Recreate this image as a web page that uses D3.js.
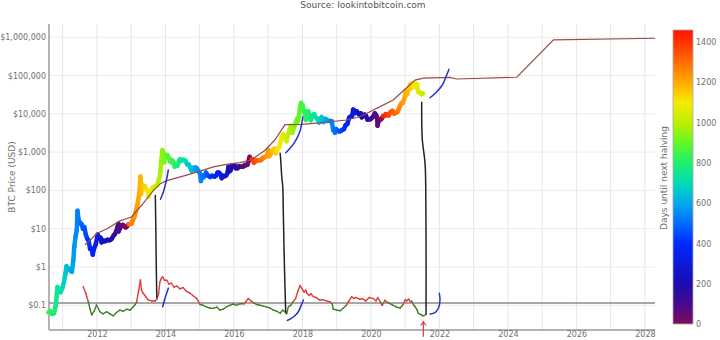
<!DOCTYPE html>
<html><head><meta charset="utf-8">
<script src="https://cdn.jsdelivr.net/npm/d3@7"></script>
<style>body{margin:0;background:#fff}svg{display:block}text{font-family:"DejaVu Sans",Verdana,sans-serif}</style>
</head><body><svg id="c" width="720" height="340"></svg>
<script>
// ---------------- DATA ----------------
const priceDates = ["2010-08-01","2010-08-20","2010-09-10","2010-10-01","2010-10-20","2010-11-06","2010-11-20","2010-12-10","2010-12-28",
"2011-01-15","2011-02-01","2011-02-10","2011-02-25","2011-03-10","2011-03-28","2011-04-10","2011-04-25","2011-05-05","2011-05-20","2011-06-01","2011-06-08","2011-06-20","2011-07-05","2011-07-20","2011-08-05","2011-08-20","2011-09-05","2011-09-20","2011-10-05","2011-10-20","2011-11-05","2011-11-18","2011-12-01","2011-12-20",
"2012-01-10","2012-01-25","2012-02-10","2012-02-20","2012-03-10","2012-03-25","2012-04-10","2012-04-25","2012-05-10","2012-05-25","2012-06-10","2012-06-25","2012-07-10","2012-07-25","2012-08-10","2012-08-17","2012-08-20","2012-09-05","2012-09-20","2012-10-05","2012-10-20","2012-11-05","2012-11-20","2012-12-05","2012-12-20",
"2013-01-05","2013-01-20","2013-02-05","2013-02-20","2013-03-05","2013-03-20","2013-04-01","2013-04-09","2013-04-16","2013-04-25","2013-05-10","2013-05-25","2013-06-10","2013-06-25","2013-07-05","2013-07-20","2013-08-05","2013-08-20","2013-09-05","2013-09-20","2013-10-05","2013-10-20","2013-11-05","2013-11-18","2013-11-30","2013-12-10","2013-12-18","2013-12-28",
"2014-01-10","2014-01-25","2014-02-10","2014-02-25","2014-03-10","2014-03-25","2014-04-10","2014-04-25","2014-05-10","2014-05-25","2014-06-05","2014-06-20","2014-07-05","2014-07-20","2014-08-05","2014-08-20","2014-09-05","2014-09-20","2014-10-05","2014-10-20","2014-11-05","2014-11-15","2014-12-01","2014-12-20",
"2015-01-05","2015-01-14","2015-01-25","2015-02-10","2015-02-25","2015-03-10","2015-03-25","2015-04-10","2015-04-25","2015-05-10","2015-05-25","2015-06-10","2015-06-25","2015-07-10","2015-07-25","2015-08-10","2015-08-24","2015-09-10","2015-09-25","2015-10-10","2015-10-25","2015-11-04","2015-11-12","2015-11-25","2015-12-10","2015-12-25",
"2016-01-10","2016-01-20","2016-02-10","2016-02-25","2016-03-10","2016-03-25","2016-04-10","2016-04-25","2016-05-10","2016-05-25","2016-06-05","2016-06-17","2016-06-25","2016-07-09","2016-07-25","2016-08-02","2016-08-20","2016-09-05","2016-09-20","2016-10-05","2016-10-20","2016-11-05","2016-11-20","2016-12-05","2016-12-20",
"2017-01-04","2017-01-11","2017-01-25","2017-02-10","2017-02-25","2017-03-10","2017-03-24","2017-04-10","2017-04-25","2017-05-10","2017-05-25","2017-06-10","2017-06-25","2017-07-15","2017-07-25","2017-08-10","2017-08-20","2017-09-01","2017-09-15","2017-09-25","2017-10-10","2017-10-20","2017-11-05","2017-11-12","2017-11-25","2017-12-07","2017-12-17","2017-12-22",
"2018-01-05","2018-01-17","2018-01-28","2018-02-06","2018-02-20","2018-03-05","2018-03-18","2018-04-01","2018-04-20","2018-05-05","2018-05-20","2018-06-05","2018-06-28","2018-07-10","2018-07-25","2018-08-14","2018-08-30","2018-09-05","2018-09-20","2018-10-10","2018-10-25","2018-11-10","2018-11-25","2018-12-15","2018-12-25",
"2019-01-10","2019-01-30","2019-02-15","2019-03-01","2019-03-20","2019-04-05","2019-04-25","2019-05-14","2019-05-30","2019-06-15","2019-06-26","2019-07-10","2019-07-20","2019-08-06","2019-08-28","2019-09-15","2019-09-26","2019-10-10","2019-10-26","2019-11-10","2019-11-25","2019-12-10","2019-12-25",
"2020-01-10","2020-01-25","2020-02-12","2020-02-25","2020-03-08","2020-03-12","2020-03-25","2020-04-10","2020-04-25","2020-05-10","2020-05-25","2020-06-10","2020-06-25","2020-07-10","2020-07-27","2020-08-17","2020-09-05","2020-09-25","2020-10-10","2020-10-21","2020-11-05","2020-11-20","2020-12-05","2020-12-17","2020-12-31",
"2021-01-08","2021-01-22","2021-02-08","2021-02-21","2021-02-28","2021-03-13","2021-03-25","2021-04-13","2021-04-25","2021-05-08","2021-05-19","2021-06-01","2021-06-22","2021-07-05","2021-07-10"];
const priceValues = [0.065,0.07,0.06,0.062,0.10,0.30,0.27,0.22,0.28,
0.40,0.70,1.05,0.90,0.90,0.78,0.75,1.5,3.4,6.5,9.5,29.6,17,14,13.5,10,11,7,5.5,4.9,3.0,3.0,2.1,3.0,3.9,
7.0,5.7,5.8,4.4,4.9,4.7,4.9,5.1,5.0,5.1,5.6,6.5,7.2,8.6,11.2,13.5,8.5,10.5,12.2,12.5,11.6,10.8,11.8,13.0,13.4,
13.5,17,20.5,29,40,60,104,230,80,140,118,130,105,103,70,90,103,120,125,130,135,180,250,600,1130,950,540,730,
850,820,680,550,620,560,420,450,440,580,650,590,630,620,580,480,480,410,330,385,340,400,380,320,
275,175,250,220,240,290,250,235,225,240,238,229,242,290,290,265,210,240,235,245,285,410,315,330,450,455,
450,380,380,425,415,415,420,460,455,470,580,750,630,650,655,530,580,610,610,610,630,705,730,760,800,
1130,780,890,1000,1180,1240,930,1200,1280,1750,2500,2900,2550,1920,2580,3400,4100,4900,3200,3900,4800,6000,7400,6300,8700,16000,19300,13800,
17000,11000,11700,6900,11300,11500,7800,6800,8900,9800,8200,7600,5900,6400,8200,6100,7000,7400,6500,6600,6500,6400,3800,3200,4000,
3650,3450,3600,3800,4000,5000,5400,7900,8600,8800,12900,12100,10500,11500,9700,10300,8100,8600,9500,8800,7100,7200,7200,
7800,8400,10300,9300,8000,4900,6700,6900,7500,8700,8900,9800,9200,9200,11000,12000,10100,10700,11300,12800,15600,18700,19100,22800,29000,
40600,32000,46000,57500,45000,61200,52300,63500,49000,58800,37000,36700,32500,33800,33800];

const halvingDates = ["2012-11-28","2016-07-09","2020-05-11","2024-04-20"];

const modelYears  = [2011.65,2011.85,2011.99,2012.3,2012.67,2012.92,2013.0,2013.16,2013.35,2013.65,2013.85,2014.0,2014.3,2014.62,2015.01,2015.4,2015.79,2016.18,2016.5,2016.9,2017.2,2017.49,2017.98,2018.5,2019.29,2019.68,2020.27,2020.65,2021.29,2021.53,2022.31,2022.5,2024.26,2025.33,2028.3];
const modelValues = [3.8,5.5,7.5,10,16,19,20,29,46,100,150,175,210,250,320,410,480,530,620,1100,2100,5200,5300,5800,6900,8400,15400,23000,76000,85000,89600,81000,90000,850000,940000];

const ratioYears  = [2011.60,2011.68,2011.75,2011.80,2011.85,2011.92,2011.99,2012.05,2012.09,2012.18,2012.29,2012.38,2012.48,2012.57,2012.67,2012.77,2012.87,2012.97,2013.06,2013.12,2013.16,2013.22,2013.27,2013.30,2013.35,2013.42,2013.50,2013.60,2013.70,2013.75,2013.80,2013.84,2013.88,2013.92,2013.97,2014.04,2014.10,2014.17,2014.25,2014.33,2014.42,2014.52,2014.62,2014.72,2014.80,2014.91,2014.96,2015.01,2015.10,2015.21,2015.30,2015.40,2015.50,2015.59,2015.70,2015.79,2015.88,2015.98,2016.08,2016.18,2016.30,2016.42,2016.50,2016.57,2016.66,2016.76,2016.86,2016.96,2017.05,2017.15,2017.25,2017.35,2017.42,2017.49,2017.54,2017.59,2017.66,2017.73,2017.80,2017.88,2017.93,2017.98,2018.05,2018.10,2018.13,2018.20,2018.25,2018.32,2018.40,2018.51,2018.60,2018.70,2018.80,2018.87,2018.90,2019.00,2019.10,2019.20,2019.29,2019.36,2019.44,2019.50,2019.56,2019.68,2019.75,2019.85,2019.95,2020.07,2020.15,2020.20,2020.27,2020.33,2020.41,2020.48,2020.56,2020.65,2020.75,2020.85,2020.94,2021.00,2021.04,2021.10,2021.15,2021.19,2021.25,2021.29,2021.35,2021.38,2021.44,2021.48,2021.52,2021.58];
const ratioValues = [0.31,0.2,0.124,0.08,0.056,0.07,0.102,0.08,0.068,0.06,0.068,0.06,0.053,0.065,0.075,0.07,0.079,0.075,0.092,0.105,0.124,0.25,0.46,0.25,0.206,0.17,0.137,0.13,0.129,0.143,0.2,0.413,0.5,0.558,0.45,0.45,0.36,0.38,0.3,0.32,0.27,0.29,0.23,0.206,0.18,0.152,0.13,0.105,0.1,0.09,0.085,0.083,0.09,0.075,0.08,0.092,0.1,0.108,0.1,0.11,0.11,0.15,0.13,0.118,0.105,0.1,0.095,0.09,0.085,0.075,0.07,0.062,0.075,0.068,0.06,0.092,0.1,0.124,0.15,0.251,0.33,0.28,0.22,0.25,0.206,0.18,0.2,0.168,0.16,0.137,0.14,0.13,0.124,0.11,0.08,0.075,0.072,0.085,0.102,0.13,0.168,0.15,0.16,0.143,0.15,0.13,0.16,0.15,0.13,0.16,0.124,0.1,0.135,0.12,0.11,0.1,0.09,0.085,0.105,0.14,0.13,0.145,0.125,0.128,0.1,0.092,0.075,0.062,0.058,0.056,0.053,0.055];
const ratioThreshold = 0.115;

const yTickValues = [0.1,1,10,100,1000,10000,100000,1000000];
const yTickLabels = ["$0.1","$1","$10","$100","$1,000","$10,000","$100,000","$1,000,000"];
const xGridYears  = [2011,2012,2013,2014,2015,2016,2017,2018,2019,2020,2021,2022,2023,2024,2025,2026,2027,2028];
const xTickYears  = [2012,2014,2016,2018,2020,2022,2024,2026,2028];
const colorTicks  = [0,200,400,600,800,1000,1200,1400];
const colorMax = 1460;
const colorStopValues = [0,100,200,400,500,600,700,800,900,1000,1100,1200,1300,1400,1460];
const colorStopColors = ["#820a5a","#460a8c","#1a0cb0","#0028ff","#006cff","#00aaf0","#00dcb4","#1ef06e","#64f528","#bef000","#f5eb00","#ffaa00","#ff6e00","#ff3200","#ff1400"];

// hand-drawn annotations, in data units [decimal year, USD]
const blackLines = [
  [[2013.705,75.9],[2013.72,9.25],[2013.734,0.835],[2013.749,0.155]],
  [[2017.346,964],[2017.366,622],[2017.396,228],[2017.425,125],[2017.442,25.2],[2017.472,1.25],[2017.512,0.0618]],
  [[2021.483,20700],[2021.483,6890],[2021.501,2070],[2021.58,510],[2021.6,125],[2021.609,5.07],[2021.609,0.0558]]
];
const blueLines = [
  [[2013.857,58.6],[2013.939,90.8],[2014.023,176],[2014.085,341]],
  [[2013.921,0.0919],[2013.988,0.152],[2014.085,0.278]],
  [[2017.512,965],[2017.638,1256],[2017.784,1870],[2017.93,3556],[2018.009,8250]],
  [[2017.559,0.0401],[2017.734,0.0495],[2017.88,0.068],[2017.98,0.108],[2018.026,0.138]],
  [[2021.726,26200],[2021.886,34900],[2022.076,54800],[2022.213,103000],[2022.28,145000]],
  [[2021.726,0.0593],[2021.872,0.0641],[2021.968,0.0835],[2022.017,0.138],[2021.997,0.206]]
];
const arrowShaft = [[2021.53,0.0152],[2021.53,0.0373]];
const arrowHead  = [[2021.454,0.0297],[2021.53,0.0373],[2021.609,0.0297]];

// ---------------- CHART ----------------
const W=720,H=340, L=49, R=655, T=24, B=330;
const svg=d3.select("#c");
const yr = v => { const y=Math.floor(v); const s=Date.UTC(y,0,1), e=Date.UTC(y+1,0,1); return new Date(s+(v-y)*(e-s)); };
const x=d3.scaleTime().domain([yr(2010.601), yr(2028.295)]).range([L,R]);
const y=d3.scaleLog().domain([0.02265, 2.213e6]).range([B,T]);
const col=d3.scaleLinear().domain(colorStopValues).range(colorStopColors).clamp(true);

// grid
const g=svg.append("g");
g.selectAll("line.v").data(xGridYears).join("line").attr("x1",d=>x(yr(d))).attr("x2",d=>x(yr(d)))
 .attr("y1",T).attr("y2",B).attr("stroke","#e6e6e6").attr("stroke-width",1);
g.selectAll("line.h").data(yTickValues).join("line").attr("class","h").attr("x1",L).attr("x2",R)
 .attr("y1",d=>y(d)).attr("y2",d=>y(d)).attr("stroke","#ececec").attr("stroke-width",1);

// axes lines
svg.append("line").attr("x1",L).attr("x2",L).attr("y1",T).attr("y2",B).attr("stroke","#9a9a9a").attr("stroke-width",1.5);
svg.append("line").attr("x1",L).attr("x2",R).attr("y1",B).attr("y2",B).attr("stroke","#9a9a9a").attr("stroke-width",1.5);

// threshold line
svg.append("line").attr("x1",L).attr("x2",R).attr("y1",y(ratioThreshold)).attr("y2",y(ratioThreshold))
 .attr("stroke","#8a8a8a").attr("stroke-width",1.5);

// ratio line red/green
const ratio=ratioYears.map((t,i)=>({d:yr(t),v:ratioValues[i]}));
const segs=[];
for(let i=0;i<ratio.length-1;i++) segs.push([ratio[i],ratio[i+1]]);
const lineR=d3.line().x(p=>x(p.d)).y(p=>y(p.v));
svg.append("g").selectAll("path").data(segs).join("path").attr("d",lineR).attr("fill","none")
 .attr("stroke",s=>Math.sqrt(s[0].v*s[1].v)>ratioThreshold?"#e03a3a":"#3f7d2c").attr("stroke-width",1.4).attr("stroke-linecap","round");

// price coloured by days until next halving
const halv=halvingDates.map(s=>new Date(s));
const daysTo = d => { const h=halv.find(h=>h>d); return (h-d)/86400000; };
const price=priceDates.map((s,i)=>({d:new Date(s),v:priceValues[i]}));
const psegs=[];
for(let i=0;i<price.length-1;i++) psegs.push([price[i],price[i+1]]);
svg.append("g").selectAll("path").data(psegs).join("path").attr("d",lineR).attr("fill","none")
 .attr("stroke",s=>col(daysTo(new Date((+s[0].d + +s[1].d)/2)))).attr("stroke-width",4.5).attr("stroke-linecap","round");

// model line
const model=modelYears.map((t,i)=>({d:yr(t),v:modelValues[i]}));
svg.append("path").datum(model).attr("d",lineR).attr("fill","none").attr("stroke","#9c4a48").attr("stroke-width",1.2);

// annotations
const lineA=d3.line().x(p=>x(yr(p[0]))).y(p=>y(p[1])).curve(d3.curveCatmullRom);
svg.append("g").selectAll("path").data(blackLines).join("path").attr("d",lineA).attr("fill","none")
 .attr("stroke","#222").attr("stroke-width",1.5);
svg.append("g").selectAll("path").data(blueLines).join("path").attr("d",lineA).attr("fill","none")
 .attr("stroke","#2535c8").attr("stroke-width",1.5).attr("stroke-linecap","round");
const lineL=d3.line().x(p=>x(yr(p[0]))).y(p=>y(p[1]));
svg.append("path").datum(arrowShaft).attr("d",lineL).attr("stroke","#e03a3a").attr("stroke-width",1.2).attr("fill","none");
svg.append("path").datum(arrowHead).attr("d",lineL).attr("stroke","#e03a3a").attr("stroke-width",1.2).attr("fill","none");

// tick labels via axes
const ya=svg.append("g").attr("transform",`translate(${L},0)`)
 .call(d3.axisLeft(y).tickValues(yTickValues).tickFormat((d,i)=>yTickLabels[i]).tickSize(0).tickPadding(3));
ya.select(".domain").remove();
ya.selectAll("text").attr("fill","#707070").attr("font-size","8px").attr("font-family","DejaVu Sans");
const xa=svg.append("g").attr("transform",`translate(0,${B})`)
 .call(d3.axisBottom(x).tickValues(xTickYears.map(yr)).tickFormat(d=>d.getUTCFullYear()).tickSize(0).tickPadding(1.5));
xa.select(".domain").remove();
xa.selectAll("text").attr("fill","#707070").attr("font-size","8px").attr("font-family","DejaVu Sans");

// titles
svg.append("text").attr("x",363).attr("y",8).attr("text-anchor","middle").attr("font-size","9px").attr("fill","#555").text("Source: lookintobitcoin.com");
svg.append("text").attr("transform","translate(15,177) rotate(-90)").attr("text-anchor","middle").attr("font-size","9px").attr("fill","#707070").text("BTC Price (USD)");

// colorbar
const cb=d3.scaleLinear().domain([0,colorMax]).range([324,30]);
const defs=svg.append("defs");
const grad=defs.append("linearGradient").attr("id","cbg").attr("x1",0).attr("y1",1).attr("x2",0).attr("y2",0);
grad.selectAll("stop").data(colorStopValues).join("stop").attr("offset",d=>d/colorMax).attr("stop-color",d=>col(d));
svg.append("rect").attr("x",673).attr("y",cb(colorMax)).attr("width",20).attr("height",cb(0)-cb(colorMax))
 .attr("fill","url(#cbg)").attr("stroke","#aaa").attr("stroke-width",0.8);
const ca=svg.append("g").attr("transform","translate(693,0)")
 .call(d3.axisRight(cb).tickValues(colorTicks).tickFormat(d3.format("d")).tickSize(0).tickPadding(3));
ca.select(".domain").remove();
ca.selectAll("text").attr("fill","#707070").attr("font-size","8px").attr("font-family","DejaVu Sans");
svg.append("text").attr("transform","translate(667,178) rotate(-90)").attr("text-anchor","middle").attr("font-size","9px").attr("fill","#707070").text("Days until next halving");
</script></body></html>
